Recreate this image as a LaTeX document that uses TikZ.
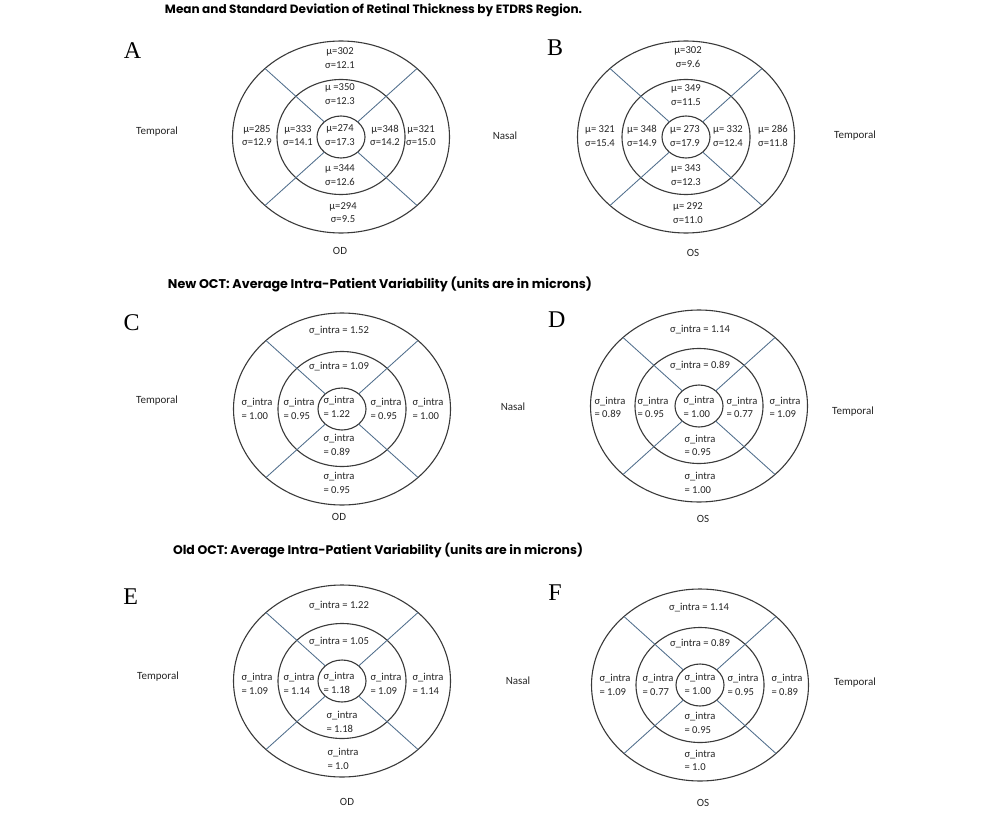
\documentclass[tikz,border=0pt]{standalone}
\usepackage{fontspec}
\setmainfont{Carlito}
\newfontfamily\letterfont{Liberation Serif}
\newfontfamily\titlefont{Poppins}
\definecolor{txt}{HTML}{262626}
\definecolor{ringc}{HTML}{3A3A3A}
\definecolor{spokec}{RGB}{80,110,140}
\tikzset{
  ringline/.style={draw=ringc,line width=1.1pt},
  spoke/.style={draw=spokec,line width=0.85pt},
  val/.style={font=\fontsize{10.6}{13.5}\selectfont,text=txt,align=center,inner sep=0pt},
  vall/.style={font=\fontsize{10.6}{13.5}\selectfont,text=txt,align=left,inner sep=0pt},
  side/.style={font=\fontsize{11}{13}\selectfont,text=txt,inner sep=0pt},
  letter/.style={font=\letterfont\fontsize{24}{24}\selectfont,text=black,inner sep=0pt},
  ttl/.style={font=\titlefont\bfseries,text=black,inner sep=0pt}
}
\newcommand\rings[2]{%
  \begin{scope}[shift={(#1,#2)}]
    \draw[ringline] (0,0) ellipse[x radius=108.5pt,y radius=96pt];
    \draw[ringline] (0,0) ellipse[x radius=64pt,y radius=57.5pt];
    \draw[ringline] (0,0) ellipse[x radius=24pt,y radius=21pt];
    \foreach \sx in {-1,1}{\foreach \sy in {-1,1}{
      \draw[spoke] (\sx*16.7,\sy*15.1) -- (\sx*76,\sy*68.5);}}
  \end{scope}}
\begin{document}
\begin{tikzpicture}[x=1pt,y=-1pt]
\useasboundingbox[fill=white] (0,0) rectangle (1000,821);
% titles
\node[ttl] (t1) at (373.5,10) {\resizebox{417pt}{!}{Mean and Standard Deviation of Retinal Thickness by ETDRS Region.}};
\node[ttl] (t2) at (380,284) {\resizebox{424pt}{!}{New OCT: Average Intra-Patient Variability (units are in microns)}};
\node[ttl] (t3) at (378,551) {\resizebox{410pt}{!}{Old OCT: Average Intra-Patient Variability (units are in microns)}};
% letters
\node[letter] (LA) at (132.5,51) {A};
\node[letter] (LB) at (555,48) {B};
\node[letter] (LC) at (131.7,323) {C};
\node[letter] (LD) at (556.7,320) {D};
\node[letter] (LE) at (130.7,597) {E};
\node[letter] (LF) at (555,593) {F};
% rings
\rings{341}{137}
\rings{686}{137}
\rings{342}{409}
\rings{699}{406}
\rings{342}{681}
\rings{700}{685}
% Panel A
\node[val] (a1) at (340,58) {μ=302\\σ=12.1};
\node[val] (a2) at (340,94) {μ =350\\σ=12.3};
\node[val] (a3) at (340,135) {μ=274\\σ=17.3};
\node[val] (a4) at (257,135.5) {μ=285\\σ=12.9};
\node[val] (a5) at (298,135.5) {μ=333\\σ=14.1};
\node[val] (a6) at (385,135.5) {μ=348\\σ=14.2};
\node[val] (a7) at (421,135.5) {μ=321\\σ=15.0};
\node[val] (a8) at (340,175) {μ =344\\σ=12.6};
\node[val] (a9) at (343,212.5) {μ=294\\σ=9.5};
\node[side] (aod) at (340,251) {OD};
\node[side] (atm) at (157,132) {Temporal};
\node[side] (ans) at (505,136) {Nasal};
% Panel B
\node[val] (b1) at (688,57) {μ=302\\σ=9.6};
\node[val] (b2) at (686,95) {μ= 349\\σ=11.5};
\node[val] (b3) at (685,136) {μ= 273\\σ=17.9};
\node[val] (b4) at (600,136) {μ= 321\\σ=15.4};
\node[val] (b5) at (642,136) {μ= 348\\σ=14.9};
\node[val] (b6) at (728,136) {μ= 332\\σ=12.4};
\node[val] (b7) at (773,136) {μ= 286\\σ=11.8};
\node[val] (b8) at (686,175) {μ= 343\\σ=12.3};
\node[val] (b9) at (688,213) {μ= 292\\σ=11.0};
\node[side] (bos) at (693,253) {OS};
\node[side] (btm) at (855,136) {Temporal};
% Panel C
\node[val] (c1) at (339,331) {σ\_intra = 1.52};
\node[val] (c2) at (339,367) {σ\_intra = 1.09};
\node[vall] (c3) at (339,407) {σ\_intra\\= 1.22};
\node[vall] (c4) at (257,409) {σ\_intra\\= 1.00};
\node[vall] (c5) at (299,409) {σ\_intra\\= 0.95};
\node[vall] (c6) at (386,409) {σ\_intra\\= 0.95};
\node[vall] (c7) at (428,409) {σ\_intra\\= 1.00};
\node[vall] (c8) at (339,445) {σ\_intra\\= 0.89};
\node[vall] (c9) at (339,483) {σ\_intra\\= 0.95};
\node[side] (cod) at (339,517) {OD};
\node[side] (ctm) at (157,401) {Temporal};
\node[side] (cns) at (513,407) {Nasal};
% Panel D
\node[val] (d1) at (700,330) {σ\_intra = 1.14};
\node[val] (d2) at (700,366) {σ\_intra = 0.89};
\node[vall] (d3) at (699,407) {σ\_intra\\= 1.00};
\node[vall] (d4) at (610,407.5) {σ\_intra\\= 0.89};
\node[vall] (d5) at (653,407.5) {σ\_intra\\= 0.95};
\node[vall] (d6) at (742,407.5) {σ\_intra\\= 0.77};
\node[vall] (d7) at (785,407.5) {σ\_intra\\= 1.09};
\node[vall] (d8) at (700,445.5) {σ\_intra\\= 0.95};
\node[vall] (d9) at (700,483) {σ\_intra\\= 1.00};
\node[side] (dos) at (703,519) {OS};
\node[side] (dtm) at (853,412) {Temporal};
% Panel E
\node[val] (e1) at (339,606) {σ\_intra = 1.22};
\node[val] (e2) at (339,642) {σ\_intra = 1.05};
\node[vall] (e3) at (339,683) {σ\_intra\\= 1.18};
\node[vall] (e4) at (257,684) {σ\_intra\\= 1.09};
\node[vall] (e5) at (299,684) {σ\_intra\\= 1.14};
\node[vall] (e6) at (386,684) {σ\_intra\\= 1.09};
\node[vall] (e7) at (428,684) {σ\_intra\\= 1.14};
\node[vall] (e8) at (342,722) {σ\_intra\\= 1.18};
\node[vall] (e9) at (343,759) {σ\_intra\\= 1.0};
\node[side] (eod) at (347,802) {OD};
\node[side] (etm) at (158,677) {Temporal};
\node[side] (ens) at (518,681) {Nasal};
% Panel F
\node[val] (f1) at (699,608) {σ\_intra = 1.14};
\node[val] (f2) at (700,644) {σ\_intra = 0.89};
\node[vall] (f3) at (700,684) {σ\_intra\\= 1.00};
\node[vall] (f4) at (615,685) {σ\_intra\\= 1.09};
\node[vall] (f5) at (658,685) {σ\_intra\\= 0.77};
\node[vall] (f6) at (743,685) {σ\_intra\\= 0.95};
\node[vall] (f7) at (787,685) {σ\_intra\\= 0.89};
\node[vall] (f8) at (700,723) {σ\_intra\\= 0.95};
\node[vall] (f9) at (700,760.5) {σ\_intra\\= 1.0};
\node[side] (fos) at (703,803) {OS};
\node[side] (ftm) at (855,683) {Temporal};
\end{tikzpicture}
\end{document}
